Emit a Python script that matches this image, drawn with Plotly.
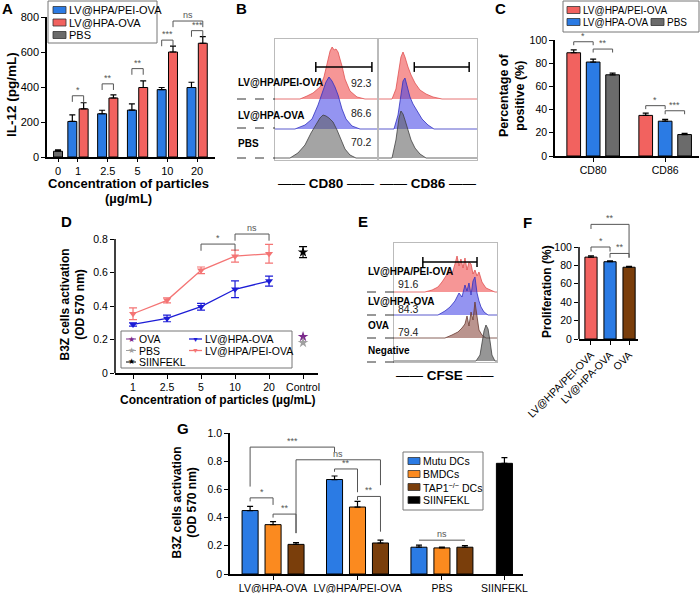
import plotly.graph_objects as go

W, H = 700, 593
FONT = "Liberation Sans, Arial, sans-serif"

# ---------------- A: IL-12 ----------------
a_conc = ["0", "1", "2.5", "5", "10", "20"]
a_names = ["LV@HPA/PEI-OVA", "LV@HPA-OVA", "PBS"]
a_pei = [None, 203, 247, 268, 385, 397]
a_pei_err = [0, 38, 20, 35, 12, 30]
a_hpa = [None, 275, 337, 397, 600, 650]
a_hpa_err = [0, 35, 18, 38, 33, 38]
a_pbs = [33, None, None, None, None, None]
a_pbs_err = [8, 0, 0, 0, 0, 0]
# (group a, series a, group b, series b, height, label)
a_sig = [(1, 0, 1, 1, 350, "*"), (2, 0, 2, 1, 418, "**"), (3, 0, 3, 1, 505, "**"),
         (4, 0, 4, 1, 668, "***"), (5, 0, 5, 1, 722, "***"), (4, 1, 5, 1, 777, "ns")]

# ---------------- B: CD80 / CD86 histograms ----------------
b_rows = ["LV@HPA/PEI-OVA", "LV@HPA-OVA", "PBS"]
b_cd80_pct = ["92.3", "86.6", "70.2"]
b_cd86_pct = ["35.1", "31.6", "19.5"]
cd80_pei_x = [24.5, 31.4, 37.3, 44.1, 48, 51, 54, 56, 58, 59.8, 61.8, 63.7, 65.7, 68.6, 73.5, 80.4, 88.2]
cd80_pei_h = [0, 3, 6, 12, 22, 35, 48, 52, 49, 50, 47, 40, 33, 20, 8, 2, 0]
cd80_hpa_x = [19.6, 29.4, 36.3, 42.2, 46.1, 50, 52.9, 55.9, 58.8, 61.8, 65.7, 69.6, 75.5, 83.3]
cd80_hpa_h = [0, 4, 10, 24, 36, 47, 52, 48, 42, 34, 20, 10, 3, 0]
cd80_pbs_x = [14.7, 22.5, 29.4, 35.3, 40.2, 44.1, 47.1, 50, 52.9, 56.9, 60.8, 64.7, 68.6, 73.5, 79.4]
cd80_pbs_h = [0, 5, 13, 25, 34, 40, 43, 42, 40, 36, 28, 18, 9, 3, 0]
cd86_pei_x = [13.3, 17.3, 20.4, 22.4, 24.5, 26.5, 29.6, 32.7, 36.7, 41.8, 48, 55.1, 64.3]
cd86_pei_h = [0, 10, 30, 42, 47, 42, 32, 24, 16, 9, 5, 2, 0]
cd86_hpa_x = [15.3, 19.4, 22.4, 24.5, 26.5, 28.6, 31.6, 34.7, 38.8, 43.9, 50, 56.1]
cd86_hpa_h = [0, 14, 36, 48, 51, 42, 32, 25, 18, 10, 4, 0]
cd86_pbs_x = [13.3, 17.3, 20.4, 22.4, 24.5, 26.5, 29.6, 32.7, 36.7, 41.8, 48]
cd86_pbs_h = [0, 18, 40, 47, 44, 38, 28, 18, 10, 4, 0]

# ---------------- C: percentage positive ----------------
c_markers = ["CD80", "CD86"]
c_names = ["LV@HPA/PEI-OVA", "LV@HPA-OVA", "PBS"]
c_pei = [89, 35]
c_pei_err = [2.5, 2]
c_hpa = [81, 30]
c_hpa_err = [2.5, 1.5]
c_pbs = [70, 18.5]
c_pbs_err = [1.5, 1]
c_sig = [(0, 0, 0, 1, 98.5, "*"), (0, 1, 0, 2, 92.2, "**"),
         (1, 0, 1, 1, 43.4, "*"), (1, 1, 1, 2, 39, "***")]

# ---------------- D: B3Z activation vs concentration ----------------
d_conc = ["1", "2.5", "5", "10", "20", "Control"]
d_hpa = [0.29, 0.326, 0.396, 0.50, 0.549, None]
d_hpa_err = [0.01, 0.02, 0.02, 0.05, 0.03, 0]
d_pei = [0.354, 0.434, 0.613, 0.698, 0.712, None]
d_pei_err = [0.035, 0.015, 0.02, 0.036, 0.056, 0]
d_ova = [0.217]
d_pbs = [0.181]
d_siin = [0.722]
d_siin_err = [0.033]
d_sig = [(2, 3, 0.77, "*"), (3, 4, 0.83, "ns")]

# ---------------- E: CFSE histograms ----------------
e_rows = ["LV@HPA/PEI-OVA", "LV@HPA-OVA", "OVA", "Negative"]
e_pct = ["91.6", "84.3", "79.4"]
cfse_pei_x = [30, 37, 42.7, 46.6, 50.5, 53.4, 56.3, 59.2, 61.2, 63.1, 65, 67, 68.9, 70.9, 72.8, 74.8, 76.7, 78.6, 80.6, 82.5, 85.4, 89.3, 93.2, 98]
cfse_pei_h = [0, 2, 5, 10, 16, 22, 18, 28, 36, 26, 33, 24, 34, 22, 30, 28, 18, 22, 16, 20, 10, 4, 2, 0]
cfse_hpa_x = [42.7, 49.5, 54.4, 59.2, 63.1, 66, 68.9, 70.9, 72.8, 74.8, 76.7, 78.6, 80.6, 82.5, 84.5, 87.4, 91.3]
cfse_hpa_h = [0, 4, 8, 14, 22, 18, 30, 24, 32, 20, 34, 38, 22, 14, 8, 3, 0]
cfse_ova_x = [49.5, 56.3, 62.1, 66, 68.9, 70.9, 72.8, 74.8, 76.7, 78.6, 80.6, 82.5, 85.4, 89.3]
cfse_ova_h = [0, 3, 6, 10, 14, 22, 12, 26, 18, 36, 20, 8, 3, 0]
cfse_neg_x = [79.6, 83.5, 85.4, 87.4, 89.3, 91.3, 93.2, 95.1, 98]
cfse_neg_h = [0, 6, 18, 30, 36, 32, 20, 6, 0]

# ---------------- F: proliferation ----------------
f_groups = ["LV@HPA/PEI-OVA", "LV@HPA-OVA", "OVA"]
f_vals = [89, 84, 78]
f_err = [1.5, 1, 1]
# (bar a, bar b, height, leg a end, leg b end, label)
f_sig = [(0, 1, 100, 95, 95, "*"), (1, 2, 93, 88.4, 88.4, "**"), (0, 2, 124.6, 119.6, 88.4, "**")]

# ---------------- G: B3Z activation by DC type ----------------
g_groups = ["LV@HPA-OVA", "LV@HPA/PEI-OVA", "PBS", "SIINFEKL"]
g_names = ["Mutu DCs", "BMDCs", "TAP1<sup>\u2212/\u2212</sup> DCs", "SIINFEKL"]
g_mutu = [0.45, 0.67, 0.19, None]
g_mutu_err = [0.03, 0.025, 0.015, 0]
g_bmdc = [0.35, 0.475, 0.185, None]
g_bmdc_err = [0.022, 0.04, 0.005, 0]
g_tap1 = [0.21, 0.22, 0.19, None]
g_tap1_err = [0.012, 0.02, 0.012, 0]
g_siin = [None, None, None, 0.785]
g_siin_err = [0, 0, 0, 0.04]
# (group a, series a, group b, series b, height, leg a end, leg b end, label)
g_sig = [(0, 0, 0, 1, 0.54, 0.515, 0.49, "*"), (0, 1, 0, 2, 0.425, 0.40, 0.29, "**"),
         (0, 0, 1, 0, 0.90, 0.62, 0.865, "***"), (0, 2, 1, 2, 0.81, 0.29, 0.63, "ns"),
         (1, 0, 1, 1, 0.745, 0.725, 0.58, "**"), (1, 1, 1, 2, 0.55, 0.525, 0.30, "**"),
         (2, 0, 2, 2, 0.24, 0.24, 0.24, "ns")]

# colours
BLUE, RED, GRAY = "#2B7BE4", "#F2625F", "#6B6B6B"
ORANGE, BROWN = "#FB8A1F", "#7A3E0B"


def px(x):
    return x / W


def py(y):
    return 1 - y / H


traces, shapes, annotations = [], [], []


def text(x, y, s, size=10, bold=False, anchor="left", color="black", angle=0):
    annotations.append(dict(xref="paper", yref="paper", x=px(x), y=py(y),
                            text="<b>%s</b>" % s if bold else s, showarrow=False, textangle=angle,
                            xanchor=anchor, yanchor="middle", font=dict(size=size, color=color)))


def key(x0, yc, color, w=13, h=7):
    shapes.append(dict(type="rect", xref="paper", yref="paper", x0=px(x0), x1=px(x0 + w),
                       y0=py(yc + h / 2), y1=py(yc - h / 2), fillcolor=color,
                       line=dict(color="#333", width=0.8)))


def box(x0, y0, x1, y1, color="#777"):
    shapes.append(dict(type="rect", xref="paper", yref="paper", x0=px(x0), x1=px(x1),
                       y0=py(y1), y1=py(y0), line=dict(color=color, width=1)))


def bar(x, y, err, color, width, offset, xa, ya):
    traces.append(go.Bar(x=x, y=y, width=width, offset=offset, xaxis=xa, yaxis=ya,
                         marker=dict(color=color, line=dict(color="black", width=1)),
                         error_y=dict(type="data", array=err, arrayminus=[0] * len(err),
                                      symmetric=False, color="black", thickness=1.2, width=3)))


def bracket(x0, x1, y, l0, l1, label, xa, ya, size=9):
    traces.append(go.Scatter(x=[x0, x0, x1, x1], y=[l0, y, y, l1], mode="lines",
                             line=dict(color="#555", width=1), xaxis=xa, yaxis=ya, hoverinfo="skip"))
    annotations.append(dict(x=(x0 + x1) / 2, y=y, xref=xa, yref=ya, text=label, showarrow=False,
                            yanchor="bottom", font=dict(size=size, color="#555"), yshift=-1))


def hist(xs, hs, base, fill, line, xa, ya):
    x = [0] + xs + [100]
    y = [base] + [base + h for h in hs] + [base]
    traces.append(go.Scatter(x=x, y=y, mode="lines", fill="toself", fillcolor=fill,
                             line=dict(color=line, width=0.8), xaxis=xa, yaxis=ya, hoverinfo="skip"))


def gate(x0, x1, y, xa, ya):
    traces.append(go.Scatter(x=[x0, x1], y=[y, y], mode="lines+markers", xaxis=xa, yaxis=ya,
                             line=dict(color="black", width=1.5),
                             marker=dict(symbol="line-ns-open", size=7, line=dict(width=1.5, color="black"))))


def ax(**kw):
    d = dict(showline=True, linecolor="black", linewidth=1.5, ticks="outside", ticklen=4,
             tickwidth=1.2, tickcolor="black", showgrid=False, zeroline=False, automargin=False,
             tickfont=dict(size=10.5, color="black"))
    d.update(kw)
    return d


def flow_ax(**kw):
    d = dict(showline=True, linecolor="#bbbbbb", linewidth=1, mirror=True, showgrid=False,
             zeroline=False, showticklabels=False, ticks="", automargin=False)
    d.update(kw)
    return d


# ---------------- A ----------------
A_POS = [0.33, 1, 2, 3, 4, 5]
A_OFF = [-0.19, 0.19, 0]
bar(A_POS, a_pei, a_pei_err, BLUE, 0.3, A_OFF[0] - 0.15, "x", "y")
bar(A_POS, a_hpa, a_hpa_err, RED, 0.3, A_OFF[1] - 0.15, "x", "y")
bar(A_POS, a_pbs, a_pbs_err, GRAY, 0.3, A_OFF[2] - 0.15, "x", "y")
for ga, sa, gb, sb, hgt, lab in a_sig:
    bracket(A_POS[ga] + A_OFF[sa], A_POS[gb] + A_OFF[sb], hgt, hgt - 35, hgt - 35, lab, "x", "y")
box(48, 1, 157, 43)
for i, (nm, col) in enumerate(zip(a_names, [BLUE, RED, GRAY])):
    key(53, 10 + 12.5 * i, col)
    text(67, 10 + 12.5 * i, nm, size=11)
text(12, 95, "IL-12 (pg/mL)", size=13.5, bold=True, anchor="center", angle=-90)
text(128, 183, "Concentration of particles", size=13, bold=True, anchor="center")
text(128, 198, "(\u00b5g/mL)", size=13, bold=True, anchor="center")

# ---------------- B ----------------
B_BASE = [61, 31, 2]
B_FILL = ["rgba(240,80,80,0.6)", "rgba(60,60,230,0.55)", "rgba(90,90,90,0.55)"]
B_LINE = ["#e05050", "#3030c0", "#404040"]
for xs, hs, i in [(cd80_pei_x, cd80_pei_h, 0), (cd80_hpa_x, cd80_hpa_h, 1), (cd80_pbs_x, cd80_pbs_h, 2)]:
    hist(xs, hs, B_BASE[i], B_FILL[i], B_LINE[i], "x2", "y2")
for xs, hs, i in [(cd86_pei_x, cd86_pei_h, 0), (cd86_hpa_x, cd86_hpa_h, 1), (cd86_pbs_x, cd86_pbs_h, 2)]:
    hist(xs, hs, B_BASE[i], B_FILL[i], B_LINE[i], "x3", "y3")
gate(40, 95, 93, "x2", "y2")
gate(36, 92, 93, "x3", "y3")
for i, (p80, p86) in enumerate(zip(b_cd80_pct, b_cd86_pct)):
    yv = B_BASE[i] + 16
    annotations.append(dict(x=97, y=yv, xref="x2", yref="y2", text=p80, showarrow=False,
                            xanchor="right", font=dict(size=10.5, color="#222")))
    annotations.append(dict(x=101, y=yv, xref="x3", yref="y3", text=p86, showarrow=False,
                            xanchor="right", font=dict(size=10.5, color="#222")))
for i, nm in enumerate(b_rows):
    text(236, [82, 115, 144][i], nm, size=10, bold=True)
    yb = [99, 128, 158][i]
    shapes.append(dict(type="line", xref="paper", yref="paper", x0=px(237), x1=px(275),
                       y0=py(yb), y1=py(yb), line=dict(color="#333", width=1, dash="dash")))
text(326, 183, "\u2014\u2014 <b>CD80</b> \u2014\u2014", size=13.5, anchor="center")
text(428, 183, "\u2014\u2014 <b>CD86</b> \u2014\u2014", size=13.5, anchor="center")

# ---------------- C ----------------
C_OFF = [-0.27, 0, 0.27]
C_POS = [0, 1]
for vals, err, col, off in [(c_pei, c_pei_err, RED, C_OFF[0]), (c_hpa, c_hpa_err, BLUE, C_OFF[1]),
                            (c_pbs, c_pbs_err, GRAY, C_OFF[2])]:
    bar(C_POS, vals, err, col, 0.19, off - 0.095, "x4", "y4")
for ga, sa, gb, sb, hgt, lab in c_sig:
    bracket(C_POS[ga] + C_OFF[sa], C_POS[gb] + C_OFF[sb], hgt, hgt - 3, hgt - 3, lab, "x4", "y4")
box(563, 1, 699, 32)
key(567, 10, RED)
text(581, 10, c_names[0], size=10)
key(567, 22, BLUE)
text(581, 22, c_names[1], size=10)
key(651, 22, GRAY)
text(665, 22, c_names[2], size=10)
text(512, 95, "Percentage of<br>positive (%)", size=12.5, bold=True, anchor="center", angle=-90)

# ---------------- D ----------------
D_POS = list(range(len(d_conc)))
DBLUE, DRED = "#1c1cd6", "#f47474"
for vals, err, col in [(d_hpa, d_hpa_err, DBLUE), (d_pei, d_pei_err, DRED)]:
    traces.append(go.Scatter(x=D_POS, y=vals, mode="lines+markers", xaxis="x5", yaxis="y5",
                             line=dict(color=col, width=1.3),
                             marker=dict(symbol="triangle-down", size=7, color=col),
                             error_y=dict(type="data", array=err, color=col, thickness=1.2, width=4)))
for vals, col in [(d_ova, "#7b2a8c"), (d_pbs, "#a0a0a0")]:
    traces.append(go.Scatter(x=[D_POS[-1]], y=vals, mode="markers", xaxis="x5", yaxis="y5",
                             marker=dict(symbol="star", size=8, color=col)))
traces.append(go.Scatter(x=[D_POS[-1]], y=d_siin, mode="markers", xaxis="x5", yaxis="y5",
                         marker=dict(symbol="star", size=8, color="black"),
                         error_y=dict(type="data", array=d_siin_err, color="black", thickness=1.2, width=4)))
for a, b, hgt, lab in d_sig:
    bracket(D_POS[a], D_POS[b], hgt, hgt - 0.04, hgt - 0.04, lab, "x5", "y5")
shapes.append(dict(type="line", xref="x5 domain", yref="y5", x0=0, x1=0, y0=0, y1=0.8,
                   line=dict(color="black", width=1.5)))
box(121, 331, 292, 368)
for i, (nm, col, sym) in enumerate([("OVA", "#7b2a8c", "\u2605"), ("PBS", "#a0a0a0", "\u2605"),
                                    ("SIINFEKL", "black", "\u2605")]):
    yc = 339 + 11.5 * i
    shapes.append(dict(type="line", xref="paper", yref="paper", x0=px(126), x1=px(136),
                       y0=py(yc), y1=py(yc), line=dict(color=col, width=1)))
    text(131, yc, sym, size=8, anchor="center", color=col)
    text(137, yc, nm, size=10.5)
for i, (nm, col) in enumerate([("LV@HPA-OVA", DBLUE), ("LV@HPA/PEI-OVA", DRED)]):
    yc = 339 + 11.5 * i
    shapes.append(dict(type="line", xref="paper", yref="paper", x0=px(189), x1=px(202),
                       y0=py(yc), y1=py(yc), line=dict(color=col, width=1.3)))
    text(195.5, yc, "\u25bc", size=7, anchor="center", color=col)
    text(203, yc, nm, size=10.5)
text(72.5, 305, "B3Z cells activation<br>(OD 570 nm)", size=12, bold=True, anchor="center", angle=-90)
text(218, 400, "Concentration of particles (\u00b5g/mL)", size=12, bold=True, anchor="center")

# ---------------- E ----------------
E_BASE = [70, 47, 24, 1]
E_FILL = ["rgba(240,80,80,0.6)", "rgba(60,60,230,0.55)", "rgba(130,60,50,0.55)", "rgba(80,80,80,0.6)"]
E_LINE = ["#e05050", "#3030c0", "#6a3a30", "#404040"]
for xs, hs, i in [(cfse_pei_x, cfse_pei_h, 0), (cfse_hpa_x, cfse_hpa_h, 1),
                  (cfse_ova_x, cfse_ova_h, 2), (cfse_neg_x, cfse_neg_h, 3)]:
    hist(xs, hs, E_BASE[i], E_FILL[i], E_LINE[i], "x6", "y6")
gate(28, 80.6, 100, "x6", "y6")
for i, nm in enumerate(e_rows):
    text(366, [272, 301, 325, 350][i], nm, size=10, bold=True)
    yb = [292, 315, 338, 362][i]
    shapes.append(dict(type="line", xref="paper", yref="paper", x0=px(367), x1=px(394),
                       y0=py(yb), y1=py(yb), line=dict(color="#333", width=1, dash="dash")))
for i, p in enumerate(e_pct):
    text(396, [284, 309, 332][i], p, size=10.5, color="#222")
text(445, 375, "\u2014\u2014 <b>CFSE</b> \u2014\u2014", size=13.5, anchor="center")

# ---------------- F ----------------
F_POS = [0, 1, 2]
for i, col in enumerate([RED, BLUE, BROWN]):
    bar([F_POS[i]], [f_vals[i]], [f_err[i]], col, 0.64, -0.32, "x7", "y7")
for a, b, hgt, la, lb, lab in f_sig:
    bracket(F_POS[a], F_POS[b], hgt, la, lb, lab, "x7", "y7")
shapes.append(dict(type="line", xref="x7 domain", yref="y7", x0=0, x1=0, y0=0, y1=100,
                   line=dict(color="black", width=1.5)))
text(547, 292, "Proliferation (%)", size=12, bold=True, anchor="center", angle=-90)

# ---------------- G ----------------
G_POS = [0, 1, 2, 2.74]
G_OFF = [-0.272, 0, 0.272]
for vals, err, col, off in [(g_mutu, g_mutu_err, BLUE, G_OFF[0]), (g_bmdc, g_bmdc_err, ORANGE, G_OFF[1]),
                            (g_tap1, g_tap1_err, BROWN, G_OFF[2]), (g_siin, g_siin_err, "black", 0)]:
    bar(G_POS, vals, err, col, 0.19, off - 0.095, "x8", "y8")
for ga, sa, gb, sb, hgt, la, lb, lab in g_sig:
    bracket(G_POS[ga] + G_OFF[sa], G_POS[gb] + G_OFF[sb], hgt, la, lb, lab, "x8", "y8")
box(403, 452, 483, 510)
for i, (nm, col) in enumerate(zip(g_names, [BLUE, ORANGE, BROWN, "black"])):
    key(408, 461 + 13 * i, col, w=12)
    text(421, 461 + 13 * i, nm, size=10.5)
text(184.5, 503, "B3Z cells activation<br>(OD 570 nm)", size=12, bold=True, anchor="center", angle=-90)

# ---------------- panel letters ----------------
for lt, x, y in [("A", 7, 9), ("B", 241, 9), ("C", 500, 9), ("D", 66, 221),
                 ("E", 363, 221), ("F", 527, 222), ("G", 183, 428)]:
    text(x, y, lt, size=15, bold=True, anchor="center")

fig = go.Figure(traces)
fig.update_traces(showlegend=False)
fig.update_layout(
    width=W, height=H, margin=dict(l=0, r=0, t=0, b=0, autoexpand=False),
    paper_bgcolor="white", plot_bgcolor="white", barmode="overlay",
    font=dict(family=FONT, color="black"), showlegend=False,
    shapes=shapes, annotations=annotations,
    xaxis=ax(domain=[px(47), px(215)], range=[-0.04, 5.6], tickvals=A_POS, ticktext=a_conc,
             anchor="y", tickfont=dict(size=11), ticklen=3),
    yaxis=ax(domain=[py(157), py(17)], range=[0, 800], tickvals=[0, 200, 400, 600, 800],
             anchor="x", tickfont=dict(size=11)),
    xaxis2=flow_ax(domain=[px(275), px(377)], range=[0, 100], anchor="y2"),
    yaxis2=flow_ax(domain=[py(160), py(39)], range=[0, 121], anchor="x2"),
    xaxis3=flow_ax(domain=[px(379), px(477)], range=[0, 100], anchor="y3"),
    yaxis3=flow_ax(domain=[py(160), py(39)], range=[0, 121], anchor="x3"),
    xaxis4=ax(domain=[px(555), px(699)], range=[-0.53, 1.47], tickvals=C_POS, ticktext=c_markers,
              anchor="y4"),
    yaxis4=ax(domain=[py(156), py(40)], range=[0, 100], tickvals=[0, 20, 40, 60, 80, 100], anchor="x4"),
    xaxis5=ax(domain=[px(115), px(318)], range=[-0.53, 5.44], tickvals=D_POS, ticktext=d_conc,
              anchor="y5"),
    yaxis5=ax(domain=[py(373), py(229)], range=[0, 0.86], tickvals=[0, 0.2, 0.4, 0.6, 0.8],
              ticktext=["0", "0.2", "0.4", "0.6", "0.8"], showline=False, anchor="x5"),
    xaxis6=flow_ax(domain=[px(394), px(497)], range=[0, 100], anchor="y6"),
    yaxis6=flow_ax(domain=[py(362), py(243)], range=[0, 119], anchor="x6"),
    xaxis7=ax(domain=[px(579), px(638)], range=[-0.63, 2.47], tickvals=F_POS, ticktext=f_groups,
              tickangle=-45, anchor="y7"),
    yaxis7=ax(domain=[py(339), py(219.4)], range=[0, 130], tickvals=[0, 20, 40, 60, 80, 100],
              showline=False, anchor="x7"),
    xaxis8=ax(domain=[px(230), px(523)], range=[-0.51, 2.96], tickvals=G_POS, ticktext=g_groups,
              anchor="y8"),
    yaxis8=ax(domain=[py(574), py(433)], range=[0, 1], tickvals=[0, 0.2, 0.4, 0.6, 0.8, 1.0],
              ticktext=["0", "0.2", "0.4", "0.6", "0.8", "1.0"], anchor="x8"),
)

fig.write_html("out.html", config={"displayModeBar": False},
               post_script="document.body.style.margin='0px';")
